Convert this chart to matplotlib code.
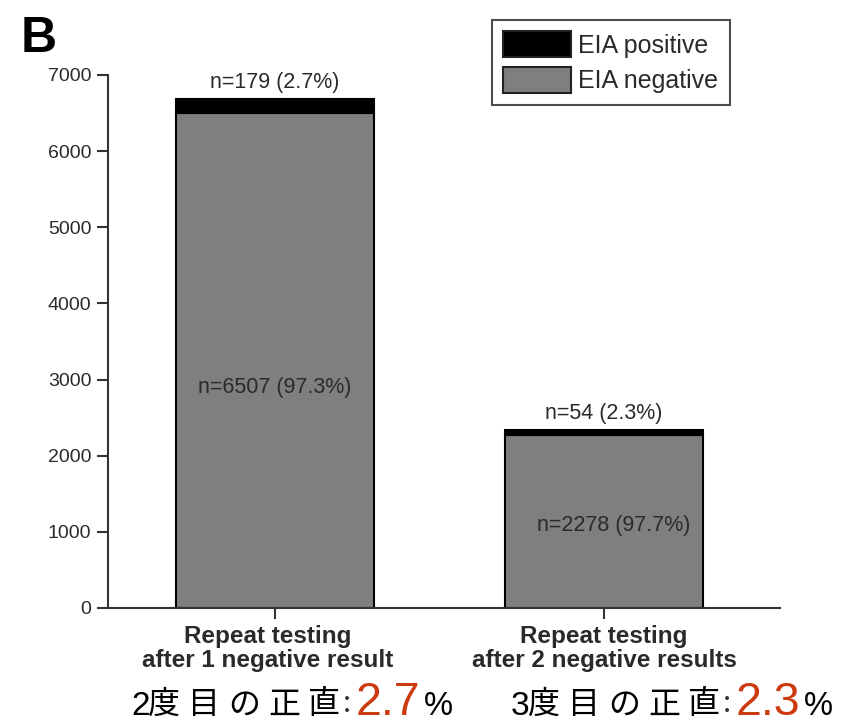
import matplotlib
matplotlib.use("Agg")
import matplotlib.pyplot as plt
import matplotlib.transforms as mtransforms
from matplotlib.patches import Patch

categories = ["Repeat testing\nafter 1 negative result", "Repeat testing\nafter 2 negative results"]
negative = [6507, 2278]
positive = [179, 54]
neg_labels = ["n=6507 (97.3%)", "n=2278 (97.7%)"]
pos_labels = ["n=179 (2.7%)", "n=54 (2.3%)"]
neg_label_y = [2900, 1090]
yticks = [0, 1000, 2000, 3000, 4000, 5000, 6000, 7000]
jp_prefix = ["2度目の正直:", "3度目の正直:"]
jp_value = ["2.7", "2.3"]

plt.rcParams['font.family'] = ['Liberation Sans', 'DejaVu Sans']
txt = '#2a2a2a'
gray = '#7f7f7f'
W, H = 851, 725

fig = plt.figure(figsize=(W/100, H/100), dpi=100)
ax = fig.add_axes([108/W, 1-608/H, (780-108)/W, (608-75)/H])

x = [0, 1]
w = 0.6
ax.bar(x, negative, width=w, color=gray, edgecolor='black', linewidth=1.5)
ax.bar(x, positive, width=w, bottom=negative, color='black', edgecolor='black', linewidth=1.5)

ax.set_xlim(-0.508, 1.535)
ax.set_ylim(0, 7000)
ax.set_yticks(yticks)
ax.set_yticklabels([str(v) for v in yticks], fontsize=14, color=txt)
ax.set_xticks(x)
ax.set_xticklabels(categories, fontsize=17.5, fontweight='bold', color=txt, linespacing=1.05)
for s in ['top', 'right']:
    ax.spines[s].set_visible(False)
for s in ['left', 'bottom']:
    ax.spines[s].set_color('#333333')
    ax.spines[s].set_linewidth(1.5)
ax.tick_params(axis='both', direction='out', length=8, width=1.5, color='#333333')
ax.tick_params(axis='y', pad=4)
ax.tick_params(axis='x', pad=4)
first = ax.get_xticklabels()[0]
first.set_transform(first.get_transform() + mtransforms.ScaledTranslation(-0.07, 0, fig.dpi_scale_trans))

for i in range(2):
    ax.text(x[i], negative[i] + positive[i] + 80, pos_labels[i], ha='center', va='bottom',
            fontsize=15.5, color=txt)
    ax.text(x[i] + (0 if i == 0 else 0.03), neg_label_y[i], neg_labels[i], ha='center', va='center',
            fontsize=15.5, color=txt)

handles = [Patch(facecolor='black', edgecolor='#222222', linewidth=1.5, label='EIA positive'),
           Patch(facecolor=gray, edgecolor='#222222', linewidth=1.5, label='EIA negative')]
leg = fig.legend(handles=handles, loc='upper left', bbox_to_anchor=(492/W, 1-20/H),
                 fontsize=18, frameon=True, fancybox=False, edgecolor='#222222',
                 handlelength=2.7, handleheight=1.2, handletextpad=0.3, borderpad=0.45,
                 labelspacing=0.38, borderaxespad=0)
leg.get_frame().set_linewidth(1.5)
for t in leg.get_texts():
    t.set_color(txt)

fig.text(21/W, 1-52/H, "B", fontsize=36, fontweight='bold', color='black', ha='left', va='baseline')

jp = ['Noto Sans CJK JP', 'DejaVu Sans']
base = 1 - 715/H
cjk_center = 1 - 704.5/H
starts = [131, 511]
for i in range(2):
    s = starts[i]
    pre = jp_prefix[i]
    fig.text(s/W, base, pre[0], fontsize=24, color='black', ha='left', va='baseline')
    for k, ch in enumerate(pre[1:-1]):
        fig.text((s + 33 + 40*k)/W, cjk_center, ch, fontsize=23, family=jp, color='black',
                 ha='center', va='center')
    fig.text((s + 216)/W, cjk_center, pre[-1], fontsize=21, family=jp, color='#333333',
             ha='center', va='center')
    fig.text((s + 225)/W, base, jp_value[i], fontsize=33.5, color='#cc3a10', ha='left', va='baseline')
    fig.text((s + 293)/W, base, "%", fontsize=23.5, color='black', ha='left', va='baseline')

fig.savefig("out.png", dpi=100)
